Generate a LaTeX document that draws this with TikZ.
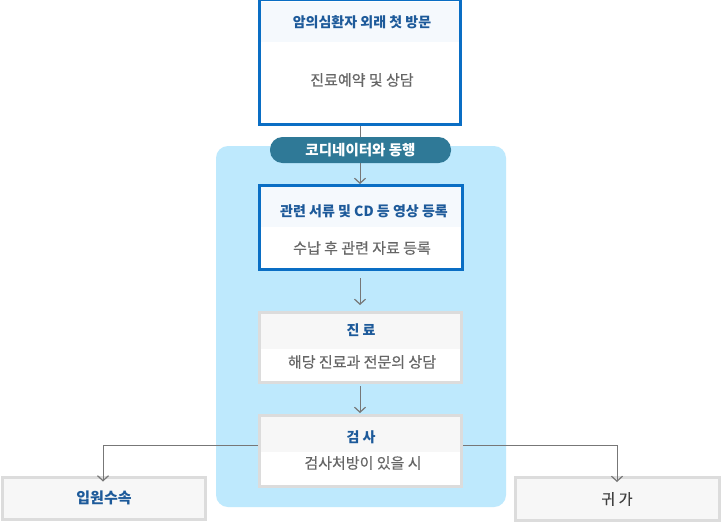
\documentclass[tikz,border=0pt]{standalone}
\usepackage{fontspec}
\newfontfamily\kr{Noto Sans CJK KR}
\newfontfamily\krm[FakeBold=0.4]{Noto Sans CJK KR}
\usetikzlibrary{arrows.meta}
\definecolor{bblue}{HTML}{0A6EC4}
\definecolor{hdrblue}{HTML}{1D5A9A}
\definecolor{bodygray}{HTML}{666666}
\definecolor{panel}{HTML}{BEE9FD}
\definecolor{pill}{HTML}{2F7997}
\definecolor{gborder}{HTML}{DCDCDC}
\definecolor{hdrbg}{HTML}{F5F9FD}
\definecolor{ghdr}{HTML}{F7F7F7}
\definecolor{lineg}{HTML}{777777}
\tikzset{
  conn/.style={draw=lineg, line width=0.9pt},
  arr/.style={conn, -{Straight Barb[length=5pt,width=11pt,line width=1.2pt]}},
  hdr/.style={font=\kr\bfseries\fontsize{14}{16}\selectfont, text=hdrblue, inner sep=0pt},
  body/.style={font=\krm\fontsize{15}{17}\selectfont, text=bodygray, inner sep=0pt},
}
\begin{document}
\begin{tikzpicture}[x=1pt,y=-1pt]
\useasboundingbox (0,0) rectangle (721,531);
\fill[white] (0,0) rectangle (721,531);
% panel
\fill[panel, rounded corners=12pt] (216,146) rectangle (506,507);
% connector lines
\coordinate (t1) at (360,126);
\coordinate (t2) at (360,184);
\draw[arr] (t1) -- (t2);
% pill
\node[fill=pill, text=white, font=\kr\bfseries\fontsize{14.5}{16}\selectfont, rounded corners=12.5pt, minimum width=181pt, minimum height=26pt, inner sep=0pt] (pill) at (360.5,150) {코디네이터와 동행};
% box 1
\fill[white] (258,0) rectangle (462,126);
\fill[hdrbg] (260,2) rectangle (460,42);
\draw[bblue, line width=3pt] (259.5,-1) rectangle (460.5,124.5);
\node[hdr] (h1) at (362,22) {암의심환자 외래 첫 방문};
\node[body] (b1) at (362,80) {진료예약 및 상담};
\coordinate (box1) at (360,126);
% box 2
\fill[white] (258,184) rectangle (464,271);
\fill[hdrbg] (260,186) rectangle (462,227);
\draw[bblue, line width=3pt] (259.5,185.5) rectangle (462.5,269.5);
\node[hdr] (h2) at (364,211) {관련 서류 및 CD 등 영상 등록};
\node[body] (b2) at (362,248) {수납 후 관련 자료 등록};
\coordinate (b2bot) at (360,278);
\coordinate (b3top) at (360,305);
\draw[arr] (b2bot) -- (b3top);
% box 3
\fill[white] (258,311) rectangle (463,384);
\fill[ghdr] (260,313) rectangle (461,349);
\draw[gborder, line width=3pt] (259.5,312.5) rectangle (461.5,382.5);
\node[hdr] (h3) at (361,330) {진 료};
\node[body] (b3) at (362,362) {해당 진료과 전문의 상담};
\coordinate (b3bot) at (360,386);
\coordinate (b4top) at (360,413);
\draw[arr] (b3bot) -- (b4top);
% box 4
\fill[white] (258,414) rectangle (463,488);
\fill[ghdr] (260,416) rectangle (461,452);
\draw[gborder, line width=3pt] (259.5,415.5) rectangle (461.5,486.5);
\node[hdr] (h4) at (361,437) {검 사};
\node[body] (b4) at (363,463) {검사처방이 있을 시};
\coordinate (b4l) at (258,445);
\coordinate (b4r) at (463,445);
% left box
\node[draw=gborder, line width=3pt, fill=ghdr, minimum width=203pt, minimum height=42pt, inner sep=0pt, font=\kr\bfseries\fontsize{15}{17}\selectfont, text=hdrblue] (adm) at (104,498) {입원수속};
% right box
\node[draw=gborder, line width=3pt, fill=ghdr, minimum width=204pt, minimum height=43pt, inner sep=0pt, font=\krm\fontsize{15}{17}\selectfont, text=black!75] (home) at (617,499) {귀 가};
\draw[arr] (b4l) -| ([yshift=-6pt]adm.north -| 103,0);
\draw[arr] (b4r) -| ([yshift=-6pt]home.north -| 617,0);
\end{tikzpicture}
\end{document}
